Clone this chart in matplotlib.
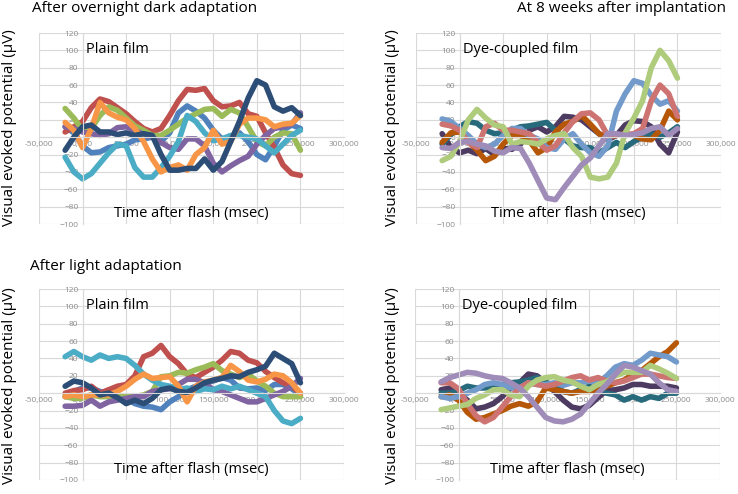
import matplotlib
matplotlib.use("Agg")
import matplotlib.pyplot as plt

plt.rcParams['font.family'] = ['Open Sans', 'DejaVu Sans']

# time after flash (msec), one sample every 10 msec
time_ms = [-20, -10, 0, 10, 20, 30, 40, 50, 60, 70, 80, 90, 100, 110, 120,
           130, 140, 150, 160, 170, 180, 190, 200, 210, 220, 230, 240, 250]

# after overnight dark adaptation, plain film
dark_plain_blue = [12, 5, -10, -18, -17, -12, -10, -8, -3, -2, 0, -5, 5, 28,
                   36, 30, 22, 8, -2, 0, 5, -5, -20, -26, -10, 8, 14, 10]
dark_plain_red = [6, 12, 18, 34, 44, 41, 34, 27, 18, 10, 6, 10, 25, 42, 55,
                  54, 56, 42, 35, 36, 40, 27, 24, 5, -12, -32, -42, -44]
dark_plain_green = [33, 22, 8, 10, 25, 35, 31, 22, 13, 8, 2, 2, 8, 15, 22,
                    27, 32, 33, 24, 32, 28, 12, -5, -10, 0, 5, 4, -15]
dark_plain_purple = [12, 10, 6, 4, 2, 4, 11, 12, 8, 3, 0, -6, -12, -14, -2,
                     -2, -10, -30, -40, -33, -27, -22, -8, 2, 10, 12, 15, 28]
dark_plain_cyan = [-23, -40, -48, -42, -30, -18, -8, -10, -35, -46, -46, -35,
                   -22, -5, 25, 18, 5, -4, -2, 2, 2, 0, -2, -10, -18, -8, 2, 8]
dark_plain_orange = [17, 8, -12, 10, 40, 28, 23, 20, 10, -5, -25, -40, -35,
                     -32, -38, -20, -12, 8, -8, -5, 15, 22, 22, 20, 12, 15, 16, 25]
dark_plain_navy = [-15, 0, 12, 14, 6, 6, 3, 5, 2, 4, 2, -20, -38, -38, -36,
                   -36, -25, -38, -28, -5, 18, 45, 65, 60, 35, 30, 34, 25]

# 8 weeks after implantation (dark adapted), dye-coupled film
dark_dye_purple = [4, -12, -18, -15, -19, -13, -20, -13, -14, -8, 8, 12, 6,
                   12, 24, 23, 20, 12, 4, -3, 2, 14, 19, 18, 12, -8, -18, 6]
dark_dye_teal = [-8, 3, 12, 18, 16, 8, 4, 5, 8, 12, 13, 15, 17, 8, -2, -10,
                 -12, -12, -18, -12, -6, -12, -5, 0, 4, 0, 5, 12]
dark_dye_orange = [-6, 5, 6, -5, -15, -27, -22, -8, 2, 2, -4, -18, -12, 6,
                   15, 18, 25, 15, 4, 0, 2, 4, 2, -2, -3, 8, 30, 20]
dark_dye_blue = [21, 18, 10, 2, -8, -12, -8, 2, 10, 10, 2, -2, -12, -14, -2,
                 4, -8, -18, -22, -10, 30, 50, 65, 62, 48, 38, 42, 30]
dark_dye_salmon = [15, 13, 8, -6, -12, 12, 16, 8, 8, 6, 4, -6, -15, -10, 5,
                   18, 27, 28, 20, 2, 2, 3, 4, 10, 42, 60, 50, 24]
dark_dye_green = [-27, -22, -5, 20, 32, 22, 14, 12, -8, -5, -6, -8, -2, 2, 4,
                  -12, -22, -46, -48, -46, -30, 5, 22, 42, 80, 100, 88, 68]
dark_dye_lavender = [-12, -13, -6, -5, -8, -10, -16, -18, -12, -13, -30, -50,
                     -70, -72, -58, -45, -32, -24, -10, 4, 4, 2, 3, 5, 10, 12, 2, 10]

# after light adaptation, plain film
light_plain_blue = [-4, 2, 6, 6, 2, 0, -4, -6, -12, -15, -16, -19, -10, -4, 4,
                    8, 12, 14, 18, 15, 6, 5, 6, 3, 10, 10, 5, -2]
light_plain_red = [0, 3, 4, 8, 0, 4, 8, 10, 20, 42, 46, 55, 42, 34, 22, 18,
                   24, 30, 38, 48, 46, 38, 35, 25, 18, 12, 8, 0]
light_plain_green = [-4, -6, -6, -2, -4, -4, -4, -4, -4, -2, 2, 19, 20, 24, 23,
                     27, 30, 34, 26, 22, 18, 22, 14, 8, 0, -4, -4, -4]
light_plain_purple = [-15, -15, -14, -8, -15, -10, -8, -6, -4, -4, 2, 4, 5, 10,
                      16, 16, 12, 4, 2, -2, -6, -10, -10, -6, -2, 2, 8, 17]
light_plain_cyan = [42, 48, 42, 38, 44, 40, 42, 40, 32, 22, 15, 10, 8, 4, 6, 2,
                    5, 4, 8, 5, 8, 4, 0, -4, -20, -32, -35, -29]
light_plain_orange = [-4, -2, -4, -2, -2, -2, 2, 8, 16, 22, 17, 18, 19, 8, -10,
                      8, 13, 15, 18, 32, 25, 15, 13, 16, 22, 20, 12, 0]
light_plain_navy = [8, 14, 12, 6, -2, 0, -5, -12, -8, -12, -6, 4, 6, 2, 1, 6,
                    12, 15, 17, 20, 19, 24, 27, 31, 46, 40, 34, 12]

# after light adaptation, dye-coupled film
light_dye_purple = [4, 6, 0, -8, -18, -16, -12, -4, 6, 12, 22, 20, 12, 2, -8,
                    -16, -18, -14, -5, 3, 4, 6, 10, 10, 8, 8, 8, 6]
light_dye_teal = [0, 0, 3, 8, 6, 6, 8, 10, 12, 13, 15, 18, 13, 8, 2, 0, 4, 8,
                  4, 0, -2, -8, -4, -8, -4, -6, 0, 0]
light_dye_orange = [-4, -2, -8, -22, -30, -28, -24, -20, -15, -12, -15, -10, 6,
                    4, 2, 0, 2, 2, 3, 8, 12, 15, 22, 26, 34, 42, 48, 58]
light_dye_blue = [-4, -6, -4, 0, 4, 10, 12, 10, 6, 6, 12, 10, 10, 12, 9, 12,
                  12, 14, 12, 20, 30, 34, 32, 38, 46, 44, 42, 36]
light_dye_salmon = [12, 12, 5, -12, -26, -33, -28, -16, -4, 6, 12, 10, 8, 10,
                    14, 18, 20, 15, 18, 14, 12, 14, 18, 22, 22, 20, 18, 17]
light_dye_green = [-19, -17, -15, -13, -6, -2, 4, 4, -2, -4, 8, 15, 18, 19, 15,
                   13, 8, 4, 10, 13, 20, 24, 24, 24, 32, 28, 23, 17]
light_dye_lavender = [13, 18, 21, 24, 23, 20, 18, 17, 12, 6, -4, -16, -28, -32,
                      -33, -30, -24, -12, 0, 10, 22, 32, 30, 26, 22, 12, 4, 2]

panels = [
    # (axes rect, inner label, [(values, colour), ...])
    ([39 / 738, 1 - 224 / 494, 305 / 738, 191 / 494], "Plain film", [
        (dark_plain_blue, "#4F81BD"), (dark_plain_red, "#C0504D"),
        (dark_plain_green, "#9BBB59"), (dark_plain_purple, "#8064A2"),
        (dark_plain_cyan, "#4BACC6"), (dark_plain_orange, "#F79646"),
        (dark_plain_navy, "#2C4D75")]),
    ([416 / 738, 1 - 224 / 494, 305 / 738, 191 / 494], "Dye-coupled film", [
        (dark_dye_purple, "#4D3B62"), (dark_dye_teal, "#276A7C"),
        (dark_dye_orange, "#B65708"), (dark_dye_blue, "#729ACA"),
        (dark_dye_salmon, "#CD7371"), (dark_dye_green, "#AFCB7C"),
        (dark_dye_lavender, "#9F8CB8")]),
    ([39 / 738, 1 - 480 / 494, 305 / 738, 191 / 494], "Plain film", [
        (light_plain_blue, "#4F81BD"), (light_plain_red, "#C0504D"),
        (light_plain_green, "#9BBB59"), (light_plain_purple, "#8064A2"),
        (light_plain_cyan, "#4BACC6"), (light_plain_orange, "#F79646"),
        (light_plain_navy, "#2C4D75")]),
    ([415 / 738, 1 - 480 / 494, 305 / 738, 191 / 494], "Dye-coupled film", [
        (light_dye_purple, "#4D3B62"), (light_dye_teal, "#276A7C"),
        (light_dye_orange, "#B65708"), (light_dye_blue, "#729ACA"),
        (light_dye_salmon, "#CD7371"), (light_dye_green, "#AFCB7C"),
        (light_dye_lavender, "#9F8CB8")]),
]

x_ticks = [-50, 0, 50, 100, 150, 200, 250, 300]
y_ticks = list(range(-100, 121, 20))

fig = plt.figure(figsize=(7.38, 4.94), dpi=100)

for rect, label, series in panels:
    ax = fig.add_axes(rect)
    ax.set_xlim(-50, 300)
    ax.set_ylim(-100, 120)
    ax.set_axisbelow(True)
    ax.grid(True, color="#d9d9d9", linewidth=0.8)
    for side in ("top", "right"):
        ax.spines[side].set_visible(False)
    ax.spines["left"].set_position(("data", 0))
    ax.spines["bottom"].set_position(("data", 0))
    ax.spines["left"].set_color("#d9d9d9")
    ax.spines["bottom"].set_color("#d9d9d9")
    ax.set_xticks(x_ticks)
    ax.set_xticklabels([f"{v:.3f}".replace(".", ",") for v in x_ticks])
    ax.set_yticks(y_ticks)
    ax.tick_params(length=0, labelsize=6, labelcolor="#8c8c8c", pad=3)
    for vals, col in series:
        ax.plot(time_ms, vals, color=col, linewidth=4,
                solid_capstyle="round", solid_joinstyle="round")
    ax.text(0.155, 0.955, label, transform=ax.transAxes, fontsize=10.5,
            ha="left", va="top")
    ax.text(0.5, 0.015, "Time after flash (msec)", transform=ax.transAxes,
            fontsize=10.5, ha="center", va="bottom")

# y labels
for x_px, y_px in [(10, 128), (393, 128), (10, 386), (393, 386)]:
    fig.text(x_px / 738, 1 - y_px / 494, "Visual evoked potential (\u00b5V)",
             rotation=90, ha="center", va="center", fontsize=11)

fig.text(32 / 738, 1 - 9 / 494, "After overnight dark adaptation",
         ha="left", va="center", fontsize=11)
fig.text(726 / 738, 1 - 9 / 494, "At 8 weeks after implantation",
         ha="right", va="center", fontsize=11)
fig.text(30 / 738, 1 - 266 / 494, "After light adaptation",
         ha="left", va="center", fontsize=11)

fig.savefig("out.png", dpi=100)
